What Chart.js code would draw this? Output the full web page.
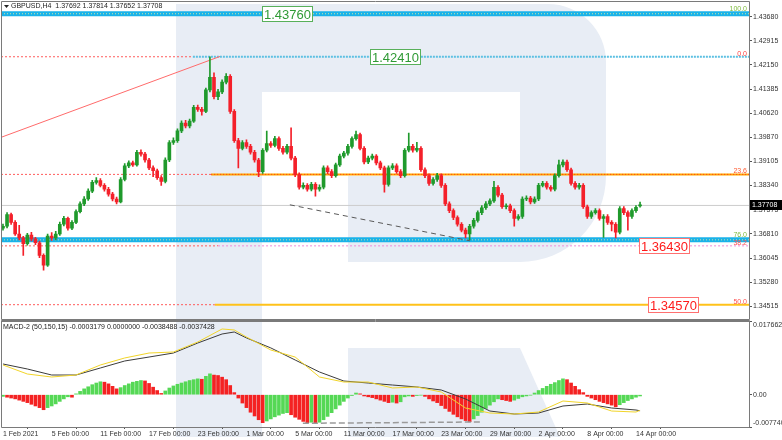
<!DOCTYPE html>
<html><head><meta charset="utf-8">
<script src="https://cdn.jsdelivr.net/npm/chart.js@4.4.1/dist/chart.umd.min.js"></script>
<style>
html,body{margin:0;padding:0;background:#fff;}
#wrap{position:relative;width:782px;height:440px;overflow:hidden;background:#fff;}
#c1{position:absolute;left:0;top:0;width:782px;height:320px;}
#c2{position:absolute;left:0;top:320px;width:782px;height:120px;}
</style></head><body>
<div id="wrap"><canvas id="c1" width="782" height="320"></canvas><canvas id="c2" width="782" height="120"></canvas></div>
<script>
// ---------- DATA (candles, index 0 = 1 Feb 2021) ----------
const opens = [1.36990,1.37051,1.37420,1.37174,1.36805,1.36681,1.36497,1.36774,1.36651,1.36527,
 1.36127,1.35819,1.36743,1.36681,1.36805,1.37113,1.37297,1.36989,1.37174,1.37513,
 1.37759,1.37913,1.38159,1.38436,1.38498,1.38344,1.38221,1.38067,1.37913,1.37821,
 1.38529,1.38960,1.39052,1.38991,1.39391,1.39329,1.39145,1.38898,1.38806,1.38590,
 1.38467,1.39145,1.39699,1.39760,1.40068,1.40315,1.40222,1.40376,1.40807,1.40746,
 1.40684,1.41361,1.41762,1.41146,1.41300,1.41608,1.41793,1.40684,1.39760,1.39514,
 1.39699,1.39576,1.39391,1.39145,1.38775,1.39453,1.39668,1.39606,1.39822,1.39514,
 1.39391,1.39576,1.39206,1.38683,1.38283,1.38344,1.38221,1.38375,1.38221,1.38283,
 1.38898,1.38775,1.38652,1.38991,1.39268,1.39360,1.39576,1.39822,1.39945,1.39514,
 1.39083,1.39206,1.39268,1.39052,1.38898,1.38375,1.38898,1.38960,1.38775,1.38652,
 1.39453,1.39576,1.39453,1.39514,1.38837,1.38652,1.38406,1.38529,1.38652,1.38344,
 1.37759,1.37544,1.37328,1.37113,1.36928,1.36805,1.37051,1.37236,1.37482,1.37636,
 1.37759,1.37851,1.38283,1.38036,1.37667,1.37697,1.37544,1.37297,1.37359,1.37913,
 1.37944,1.37821,1.37913,1.38344,1.38406,1.38283,1.38221,1.38652,1.38991,1.39083,
 1.38837,1.38406,1.38283,1.38344,1.37667,1.37359,1.37482,1.37544,1.37297,1.37359,
 1.37174,1.37113,1.36866,1.37605,1.37482,1.37359,1.37544,1.37692];
const highs = [1.37120,1.37480,1.37470,1.37230,1.37080,1.36730,1.36830,1.36860,1.36700,1.36580,
 1.36180,1.36800,1.36850,1.36890,1.37180,1.37360,1.37340,1.37230,1.37570,1.37820,
 1.37990,1.38230,1.38500,1.38590,1.38560,1.38400,1.38280,1.38120,1.37970,1.38590,
 1.39030,1.39120,1.39110,1.39453,1.39470,1.39390,1.39200,1.38960,1.38860,1.38650,
 1.39210,1.39760,1.39850,1.40130,1.40380,1.40400,1.40440,1.40870,1.40880,1.40810,
 1.41420,1.42410,1.41900,1.41380,1.41680,1.41880,1.41850,1.40740,1.39830,1.39760,
 1.39780,1.39640,1.39450,1.39200,1.39510,1.40060,1.39730,1.39890,1.39880,1.39580,
 1.39640,1.40160,1.39260,1.38740,1.38420,1.38400,1.38440,1.38430,1.38360,1.38960,
 1.38960,1.38840,1.39050,1.39330,1.39420,1.39640,1.39880,1.40060,1.40000,1.39570,
 1.39270,1.39330,1.39320,1.39110,1.38950,1.38960,1.39030,1.39020,1.38840,1.39510,
 1.40000,1.39640,1.39700,1.39570,1.38900,1.38710,1.38590,1.38720,1.38710,1.38400,
 1.37820,1.37600,1.37380,1.37170,1.36990,1.37110,1.37300,1.37540,1.37700,1.37830,
 1.37920,1.38470,1.38340,1.38090,1.37760,1.37750,1.37600,1.37420,1.37980,1.38010,
 1.38000,1.37980,1.38410,1.38470,1.38460,1.38340,1.38710,1.39145,1.39150,1.39140,
 1.38890,1.38460,1.38410,1.38400,1.37720,1.37540,1.37610,1.37600,1.37420,1.37420,
 1.37230,1.37170,1.37670,1.37670,1.37540,1.37600,1.37700,1.37814];
const lows = [1.36930,1.37000,1.37110,1.36760,1.36620,1.36130,1.36450,1.36590,1.36470,1.36060,
 1.35665,1.35780,1.36600,1.36620,1.36760,1.37060,1.36930,1.36940,1.37130,1.37470,
 1.37700,1.37870,1.38110,1.38380,1.38290,1.38160,1.38000,1.37850,1.37759,1.37790,
 1.38480,1.38900,1.38940,1.38950,1.39270,1.39080,1.38840,1.38620,1.38530,1.38345,
 1.38420,1.39090,1.39640,1.39700,1.40010,1.40160,1.40160,1.40330,1.40680,1.40560,
 1.40640,1.41300,1.41080,1.41050,1.41240,1.41550,1.40620,1.39700,1.38898,1.39460,
 1.39510,1.39330,1.39080,1.38621,1.38720,1.39400,1.39540,1.39560,1.39450,1.39330,
 1.39340,1.39150,1.38620,1.38220,1.38230,1.38160,1.38170,1.37999,1.38160,1.38230,
 1.38710,1.38590,1.38600,1.38940,1.39210,1.39300,1.39520,1.39770,1.39460,1.39020,
 1.39030,1.39150,1.38990,1.38840,1.38129,1.38320,1.38840,1.38720,1.38590,1.38600,
 1.39400,1.39390,1.39400,1.38780,1.38590,1.38340,1.38350,1.38470,1.38280,1.37700,
 1.37480,1.37260,1.37050,1.36870,1.36680,1.36620,1.36990,1.37180,1.37420,1.37580,
 1.37700,1.37800,1.37980,1.37610,1.37600,1.37480,1.37051,1.37240,1.37300,1.37860,
 1.37760,1.37770,1.37860,1.38290,1.38220,1.38160,1.38170,1.38600,1.38930,1.38780,
 1.38350,1.38220,1.38220,1.37610,1.37300,1.37300,1.37430,1.37240,1.36700,1.37110,
 1.36900,1.36681,1.36810,1.37420,1.36930,1.37300,1.37490,1.37652];
const closes = [1.37051,1.37420,1.37174,1.36805,1.36681,1.36497,1.36774,1.36651,1.36527,1.36127,
 1.35819,1.36743,1.36681,1.36805,1.37113,1.37297,1.36989,1.37174,1.37513,1.37759,
 1.37913,1.38159,1.38436,1.38498,1.38344,1.38221,1.38067,1.37913,1.37821,1.38529,
 1.38960,1.39052,1.38991,1.39391,1.39329,1.39145,1.38898,1.38806,1.38590,1.38467,
 1.39145,1.39699,1.39760,1.40068,1.40315,1.40222,1.40376,1.40807,1.40746,1.40684,
 1.41361,1.41762,1.41146,1.41300,1.41608,1.41793,1.40684,1.39760,1.39514,1.39699,
 1.39576,1.39391,1.39145,1.38775,1.39453,1.39668,1.39606,1.39822,1.39514,1.39391,
 1.39576,1.39206,1.38683,1.38283,1.38344,1.38221,1.38375,1.38221,1.38283,1.38898,
 1.38775,1.38652,1.38991,1.39268,1.39360,1.39576,1.39822,1.39945,1.39514,1.39083,
 1.39206,1.39268,1.39052,1.38898,1.38375,1.38898,1.38960,1.38775,1.38652,1.39453,
 1.39576,1.39453,1.39514,1.38837,1.38652,1.38406,1.38529,1.38652,1.38344,1.37759,
 1.37544,1.37328,1.37113,1.36928,1.36805,1.37051,1.37236,1.37482,1.37636,1.37759,
 1.37851,1.38283,1.38036,1.37667,1.37697,1.37544,1.37297,1.37359,1.37913,1.37944,
 1.37821,1.37913,1.38344,1.38406,1.38283,1.38221,1.38652,1.38991,1.39083,1.38837,
 1.38406,1.38283,1.38344,1.37667,1.37359,1.37482,1.37544,1.37297,1.37359,1.37174,
 1.37113,1.36866,1.37605,1.37482,1.37359,1.37544,1.37650,1.37708];

const histValues = [-0.0004,-0.0006,-0.0008,-0.0010,-0.0013,-0.0016,-0.0019,-0.0023,-0.0027,-0.0031,
 -0.0036,-0.0031,-0.0027,-0.0022,-0.0016,-0.0010,-0.0005,-0.0006,0.0002,0.0008,
 0.0014,0.0019,0.0024,0.0028,0.0031,0.0030,0.0026,0.0020,0.0014,0.0017,
 0.0022,0.0026,0.0030,0.0032,0.0034,0.0033,0.0027,0.0018,0.0010,0.0003,
 0.0009,0.0016,0.0021,0.0025,0.0028,0.0031,0.0034,0.0036,0.0038,0.0037,
 0.0044,0.0050,0.0047,0.0046,0.0042,0.0036,0.0022,0.0005,-0.0008,-0.0020,
 -0.0031,-0.0042,-0.0051,-0.0060,-0.0067,-0.0063,-0.0058,-0.0053,-0.0049,-0.0045,
 -0.0043,-0.0048,-0.0054,-0.0059,-0.0064,-0.0067,-0.0066,-0.0068,-0.0066,-0.0060,
 -0.0052,-0.0043,-0.0034,-0.0025,-0.0016,-0.0008,-0.0002,0.0004,0.0002,-0.0003,
 -0.0005,-0.0007,-0.0010,-0.0013,-0.0016,-0.0019,-0.0018,-0.0020,-0.0017,-0.0005,
 -0.0003,-0.0004,-0.0002,-0.0001,-0.0004,-0.0010,-0.0015,-0.0019,-0.0026,-0.0033,
 -0.0040,-0.0047,-0.0053,-0.0058,-0.0062,-0.0065,-0.0058,-0.0050,-0.0042,-0.0033,
 -0.0025,-0.0017,-0.0010,-0.0012,-0.0014,-0.0016,-0.0013,-0.0009,-0.0005,-0.0003,
 -0.0001,0.0004,0.0010,0.0015,0.0020,0.0025,0.0029,0.0034,0.0038,0.0036,
 0.0028,0.0020,0.0012,0.0005,-0.0004,-0.0008,-0.0012,-0.0016,-0.0019,-0.0022,
 -0.0025,-0.0029,-0.0024,-0.0019,-0.0014,-0.0010,-0.0006,-0.0003];
const macdIdx = [0,6,12,18,24,30,36,42,48,54,57,60,66,72,78,84,90,96,102,108,114,120,126,132,138,144,150,156,157];
const macdMain = [0.00736,0.00616,0.00472,0.00472,0.00640,0.00808,0.00903,0.00999,0.01239,0.01455,0.01503,0.01361,0.01121,0.00832,0.00544,0.00328,0.00280,0.00232,0.00185,0.00113,-0.00103,-0.00391,-0.00463,-0.00439,-0.00271,-0.00223,-0.00319,-0.00367,-0.00385];
const macdSignal = [0.00712,0.00496,0.00424,0.00472,0.00712,0.00880,0.00999,0.01023,0.01263,0.01575,0.01551,0.01383,0.01071,0.00903,0.00424,0.00304,0.00304,0.00161,0.00185,0.00065,-0.00319,-0.00439,-0.00463,-0.00415,-0.00151,-0.00199,-0.00391,-0.00415,-0.00374];

const tickIdx = [0,12,24,36,48,60,72,84,96,108,120,132,144,156];
const tickLabels = ['1 Feb 2021','5 Feb 00:00','11 Feb 00:00','17 Feb 00:00','23 Feb 00:00','1 Mar 00:00','5 Mar 00:00','11 Mar 00:00','17 Mar 00:00','23 Mar 00:00','29 Mar 00:00','2 Apr 00:00','8 Apr 00:00','14 Apr 00:00'];
const priceTicks = [1.43680,1.42915,1.42150,1.41385,1.40620,1.39870,1.39105,1.38340,1.37575,1.36810,1.36045,1.35280,1.34515];
const macdTicks = [0.0176628, 0, -0.0077404];
const macdTickLabels = ['0.0176628','0.00','-0.0077404'];

const fibLevels = [1.42410, 1.38690, 1.36430, 1.34570];
const fibNames = ['0.0','23.6','38.2','50.0'];
const fibSplitIdx = [46.8, 51.3, 53.0, 52.2];
const bandLevels = [1.43770, 1.36620];
const bandNames = ['100.0','76.0'];
const boxPrices = [1.43760, 1.42410, 1.36430, 1.34570];
const boxTexts = ['1.43760','1.42410','1.36430','1.34570'];
const boxIdx = [63.8, 90.4, 156.8, 159.0];
const lastPrice = 1.37708;
const trendRedX = [-0.5, 53.5], trendRedY = [1.39860, 1.42420];
const trendDashX = [70.7, 115.1], trendDashY = [1.37728, 1.36589];
const macdDashX = [73.9, 117.6], macdDashY = [-0.00685, -0.00654];
const titleText = 'GBPUSD,H4  1.37692 1.37814 1.37652 1.37708';
const macdTitle = 'MACD-2 (50,150,15) -0.0003179 0.0000000 -0.0038488 -0.0037428';

// ---------- STYLE ----------
const XMIN = -0.49, XMAX = 183.85;
const UP = '#1f9a2c', DOWN = '#f4202a';
const HUP = '#55d855', HDOWN = '#f42222';
const WM = '#e8edf5';
const FONT = "'Liberation Sans', Arial, sans-serif";
Chart.defaults.font.family = FONT;
Chart.defaults.animation = false;

function seg(x0, y0, x1, y1, color, width, dash, order) {
  return { type: 'line', data: [{x: x0, y: y0}, {x: x1, y: y1}], borderColor: color, borderWidth: width,
    borderDash: dash || [], pointRadius: 0, pointHoverRadius: 0, fill: false, tension: 0, order: order };
}

const idx = closes.map((_, i) => i);
const cColors = idx.map(i => closes[i] >= opens[i] ? UP : DOWN);

const mainDatasets = [];
bandLevels.forEach(b => {
  mainDatasets.push(seg(XMIN, b, XMAX, b, '#1ab2e8', 5, [], 30));
  mainDatasets.push(seg(XMIN, b, XMAX, b, 'rgba(235,235,150,0.85)', 1, [1, 2], 29));
});
const rightStyle = [
  {c: '#5cc0e2', w: 2, d: [2, 1]},
  {c: '#ffa500', w: 2, d: []},
  {c: '#f08ad8', w: 1, d: [2, 2]},
  {c: '#ffc21a', w: 2, d: []}
];
fibLevels.forEach((L, k) => {
  mainDatasets.push(seg(XMIN, L, fibSplitIdx[k], L, '#ff5c5c', 1, [2, 2], 25));
  mainDatasets.push(seg(fibSplitIdx[k], L, XMAX, L, rightStyle[k].c, rightStyle[k].w, rightStyle[k].d, 26));
});
mainDatasets.push(seg(fibSplitIdx[1], fibLevels[1], XMAX, fibLevels[1], '#ff3a1a', 1, [1, 2], 24));
mainDatasets.push(seg(XMIN, lastPrice, XMAX, lastPrice, '#cccccc', 1, [], 22));
mainDatasets.push(seg(trendRedX[0], trendRedY[0], trendRedX[1], trendRedY[1], '#ff6b6b', 1, [], 20));
mainDatasets.push({
  type: 'bar', data: idx.map(i => ({x: i, y: [lows[i], highs[i]]})),
  backgroundColor: cColors, barThickness: 1, grouped: false, order: 5, minBarLength: 1
});
mainDatasets.push({
  type: 'bar', data: idx.map(i => ({x: i, y: [Math.min(opens[i], closes[i]), Math.max(opens[i], closes[i])]})),
  backgroundColor: cColors, barThickness: 3, grouped: false, order: 4, minBarLength: 1
});
mainDatasets.push(seg(trendDashX[0], trendDashY[0], trendDashX[1], trendDashY[1], '#5a5a5a', 1, [5, 4], 1));

const mainPlugin = {
  id: 'mainDecor',
  beforeDraw(chart) {
    const ctx = chart.ctx;
    ctx.save();
    ctx.fillStyle = '#fff'; ctx.fillRect(0, 0, chart.width, chart.height);
    ctx.fillStyle = WM;
    ctx.fillRect(176, 4, 86, 320);
    ctx.beginPath();
    ctx.moveTo(262, 4); ctx.lineTo(548, 4); ctx.arcTo(606, 4, 606, 62, 58);
    ctx.lineTo(606, 176); ctx.arcTo(606, 262, 520, 262, 86);
    ctx.lineTo(348, 262); ctx.lineTo(348, 176); ctx.lineTo(520, 176); ctx.lineTo(520, 92); ctx.lineTo(262, 92);
    ctx.closePath(); ctx.fill();
    ctx.restore();
  },
  afterDraw(chart) {
    const ctx = chart.ctx, ys = chart.scales.y, xs = chart.scales.x, ca = chart.chartArea;
    ctx.save();
    ctx.font = '7px ' + FONT; ctx.textAlign = 'right'; ctx.textBaseline = 'alphabetic';
    const fibCol = ['#ff4040', '#ff5a30', '#ff5050', '#ff5050'];
    fibLevels.forEach((L, k) => { ctx.fillStyle = fibCol[k]; ctx.fillText(fibNames[k], ca.right - 2, ys.getPixelForValue(L) - 1); });
    ctx.fillStyle = '#7dbb3c';
    bandLevels.forEach((b, k) => { ctx.fillText(bandNames[k], ca.right - 2, ys.getPixelForValue(b) - 3); });
    ctx.font = '13px ' + FONT; ctx.textAlign = 'left'; ctx.textBaseline = 'middle';
    boxPrices.forEach((p, k) => {
      const green = k < 2;
      const x = Math.round(xs.getPixelForValue(boxIdx[k]));
      const y = Math.round(ys.getPixelForValue(p));
      const w = Math.ceil(ctx.measureText(boxTexts[k]).width) + 4;
      ctx.fillStyle = '#fff'; ctx.fillRect(x, y - 8, w, 16);
      ctx.strokeStyle = green ? '#58b05a' : '#ff7070'; ctx.lineWidth = 1;
      ctx.strokeRect(x + 0.5, y - 7.5, w - 1, 15);
      ctx.fillStyle = green ? '#2f9a35' : '#ff1a1a';
      ctx.fillText(boxTexts[k], x + 2, y + 1);
    });
    ctx.strokeStyle = '#7a7a7a'; ctx.lineWidth = 1;
    ctx.beginPath();
    ctx.moveTo(1.5, 1.5); ctx.lineTo(749.5, 1.5);
    ctx.moveTo(1.5, 1.5); ctx.lineTo(1.5, 319.5);
    ctx.moveTo(749.5, 1.5); ctx.lineTo(749.5, 319.5);
    ctx.moveTo(1.5, 319.5); ctx.lineTo(749.5, 319.5);
    ctx.stroke();
    ctx.fillStyle = '#222'; ctx.font = '7px ' + FONT; ctx.textBaseline = 'middle'; ctx.textAlign = 'left';
    ctx.beginPath(); ctx.moveTo(4, 5); ctx.lineTo(9, 5); ctx.lineTo(6.5, 8); ctx.closePath(); ctx.fill();
    ctx.fillText(titleText, 11, 6.5);
    const ly = Math.round(ys.getPixelForValue(lastPrice));
    ctx.fillStyle = '#000'; ctx.fillRect(750, ly - 5, 32, 10);
    ctx.fillStyle = '#fff'; ctx.fillText(lastPrice.toFixed(5), 752, ly + 0.5);
    ctx.restore();
  }
};

new Chart(document.getElementById('c1'), {
  type: 'bar',
  data: {datasets: mainDatasets},
  options: {
    responsive: false, maintainAspectRatio: false, animation: false,
    layout: {padding: {left: 1, right: 0, top: 1, bottom: 1}},
    plugins: {legend: {display: false}, tooltip: {enabled: false}},
    scales: {
      x: {type: 'linear', min: XMIN, max: XMAX, offset: false, display: false},
      y: {
        position: 'right', min: 1.3425, max: 1.4404,
        afterFit(s) { s.width = 33; },
        afterBuildTicks(s) { s.ticks = priceTicks.map(v => ({value: v})); },
        border: {display: false},
        grid: {drawOnChartArea: false, drawTicks: true, tickLength: 3, color: '#555'},
        ticks: {autoSkip: false, padding: 1, color: '#333', font: {size: 7}, callback: v => Number(v).toFixed(5)}
      }
    }
  },
  plugins: [mainPlugin]
});

const histColors = histValues.map((v, i) => (i === 0 || v >= histValues[i - 1]) ? HUP : HDOWN);
const macdPlugin = {
  id: 'macdDecor',
  beforeDraw(chart) {
    const ctx = chart.ctx;
    ctx.save();
    ctx.fillStyle = '#fff'; ctx.fillRect(0, 0, chart.width, chart.height);
    ctx.fillStyle = WM;
    ctx.fillRect(176, 0, 86, 117);
    ctx.beginPath();
    ctx.moveTo(348, 28); ctx.lineTo(520, 28); ctx.lineTo(560, 117); ctx.lineTo(348, 117); ctx.closePath(); ctx.fill();
    ctx.restore();
  },
  afterDraw(chart) {
    const ctx = chart.ctx, ys = chart.scales.y, ca = chart.chartArea;
    ctx.save();
    ctx.strokeStyle = '#7a7a7a'; ctx.lineWidth = 1;
    ctx.beginPath();
    ctx.moveTo(1.5, 0.5); ctx.lineTo(749.5, 0.5);
    ctx.moveTo(1.5, 1.5); ctx.lineTo(749.5, 1.5);
    ctx.moveTo(1.5, 0.5); ctx.lineTo(1.5, 107.5);
    ctx.moveTo(749.5, 0.5); ctx.lineTo(749.5, 107.5);
    ctx.moveTo(1.5, 107.5); ctx.lineTo(749.5, 107.5);
    ctx.stroke();
    ctx.fillStyle = '#333'; ctx.font = '7px ' + FONT; ctx.textAlign = 'left'; ctx.textBaseline = 'middle';
    macdTicks.forEach((v, k) => {
      let y = ys.getPixelForValue(v);
      y = Math.max(ca.top + 4, Math.min(ca.bottom - 4, y));
      ctx.fillText(macdTickLabels[k], 753, y);
    });
    ctx.fillStyle = '#222';
    ctx.fillText(macdTitle, 3, 7);
    ctx.restore();
  }
};

new Chart(document.getElementById('c2'), {
  type: 'bar',
  data: {datasets: [
    {type: 'bar', data: idx.map(i => ({x: i, y: histValues[i]})), backgroundColor: histColors, barThickness: 3, grouped: false, order: 5},
    {type: 'line', data: macdIdx.map((x, k) => ({x: x, y: macdMain[k]})), borderColor: '#3c3c3c', borderWidth: 1, pointRadius: 0, tension: 0, order: 2},
    {type: 'line', data: macdIdx.map((x, k) => ({x: x, y: macdSignal[k]})), borderColor: '#f2d52a', borderWidth: 1, pointRadius: 0, tension: 0, order: 1},
    seg(macdDashX[0], macdDashY[0], macdDashX[1], macdDashY[1], '#9a9a9a', 1.5, [6, 3], 3)
  ]},
  options: {
    responsive: false, maintainAspectRatio: false, animation: false,
    layout: {padding: {left: 1, right: 0, top: 1, bottom: 0}},
    plugins: {legend: {display: false}, tooltip: {enabled: false}},
    scales: {
      x: {
        type: 'linear', min: XMIN, max: XMAX, offset: false, position: 'bottom',
        afterFit(s) { s.height = 13; },
        afterBuildTicks(s) { s.ticks = tickIdx.map(v => ({value: v})); },
        border: {display: false},
        grid: {drawOnChartArea: false, drawTicks: true, tickLength: 2, color: '#555'},
        ticks: {autoSkip: false, maxRotation: 0, minRotation: 0, align: 'start', padding: 1, color: '#333', font: {size: 7},
          callback: (v, i) => tickLabels[i]}
      },
      y: {
        position: 'right', min: -0.0077404, max: 0.0176628,
        afterFit(s) { s.width = 33; },
        afterBuildTicks(s) { s.ticks = macdTicks.map(v => ({value: v})); },
        border: {display: false},
        grid: {drawOnChartArea: false, drawTicks: true, tickLength: 3, color: '#555'},
        ticks: {display: false}
      }
    }
  },
  plugins: [macdPlugin]
});
</script>
</body></html>
